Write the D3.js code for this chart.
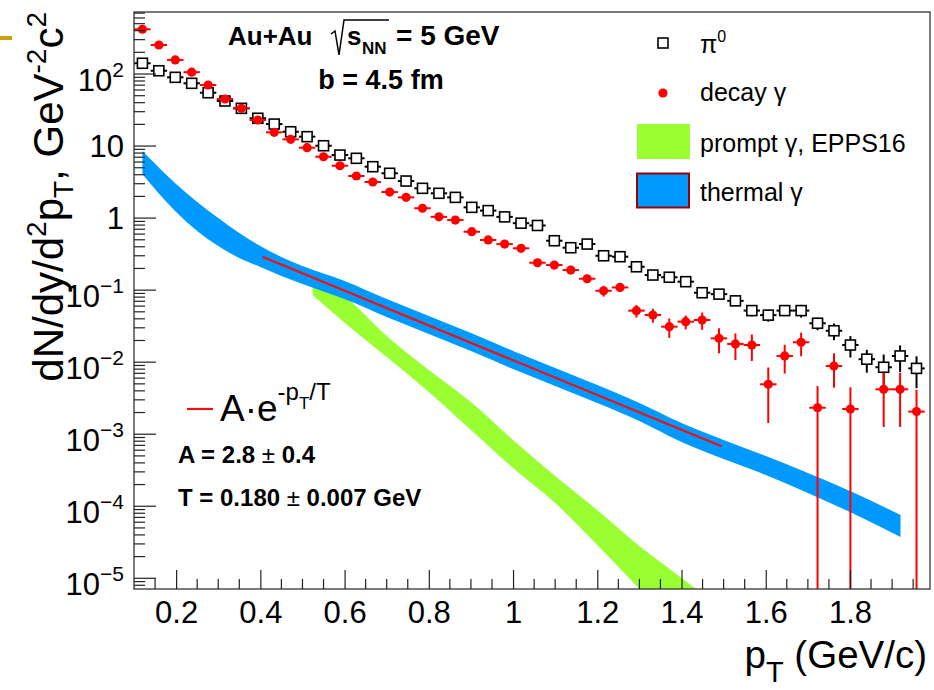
<!DOCTYPE html>
<html>
<head>
<meta charset="utf-8">
<script src="https://cdn.jsdelivr.net/npm/d3@7"></script>
<style>
body{margin:0;background:#fff;}
svg{display:block;font-family:"Liberation Sans",Arial,Helvetica,sans-serif;}
</style>
</head>
<body>
<script>

//bin centres in pT (GeV/c)
var pt = [0.120,0.159,0.198,0.237,0.276,0.316,0.355,0.394,0.433,0.472,0.511,0.550,0.589,0.628,0.667,0.707,
          0.746,0.785,0.824,0.863,0.902,0.941,0.980,1.019,1.058,1.098,1.137,1.176,1.215,1.254,1.293,1.332,
          1.371,1.410,1.449,1.489,1.528,1.567,1.606,1.645,1.684,1.723,1.762,1.801,1.840,1.880,1.919,1.958];
var binHalf = 0.0195;

//pi0 spectrum
var pi0 = [141,111,90,74.3,55,42.2,33.4,24.3,20.2,15.8,13.5,10.1,7.5,6.76,5.17,4.19,
           3.27,2.59,2.21,1.94,1.41,1.27,1.04,0.85,0.79,0.485,0.388,0.436,0.30,0.291,0.211,0.162,
           0.151,0.131,0.092,0.088,0.071,0.052,0.045,0.052,0.052,0.0347,0.0273,0.0173,0.011,0.0085,0.0122,0.0082];
var pi0ErrFrac = [0.04,0.04,0.04,0.04,0.04,0.04,0.04,0.04,0.04,0.04,0.04,0.04,0.04,0.04,0.04,0.04,
                  0.05,0.05,0.05,0.05,0.06,0.06,0.06,0.06,0.07,0.08,0.08,0.08,0.08,0.08,0.08,0.08,
                  0.09,0.09,0.1,0.1,0.12,0.17,0.19,0.16,0.2,0.2,0.26,0.33,0.35,0.5,0.4,0.47];

//decay photons (null = no point)
var decay = [418,253,157,106,70.4,45,33.4,23,15.5,12.4,9.49,7.11,5.33,3.84,3.17,2.30,
             1.94,1.37,1.04,0.94,0.647,0.497,0.436,0.381,0.24,0.223,0.19,0.144,0.098,0.109,0.0519,0.0452,
             0.0311,0.0365,0.0385,0.0214,0.0179,0.0173,0.00493,0.0122,0.0189,0.00233,0.00885,0.00224,null,0.0042,0.0042,0.00206];
var decayErrFrac = [0.05,0.05,0.05,0.05,0.05,0.05,0.05,0.05,0.05,0.05,0.05,0.05,0.05,0.05,0.05,0.05,
                    0.05,0.05,0.05,0.05,0.07,0.07,0.07,0.07,0.07,0.12,0.12,0.13,0.17,0.12,0.2,0.22,
                    0.3,0.22,0.27,0.38,0.4,0.4,0.71,0.43,0.36,1.0,0.5,1.0,null,0.7,0.7,1.0];

//thermal photon band
var thermPt = [0.12,0.16,0.20,0.25,0.30,0.35,0.40,0.45,0.50,0.60,0.70,0.80,0.90,1.00,1.10,1.20,1.30,1.40,1.50,1.60,1.70,1.80,1.92];
var thermHi = [8.54,4.96,2.97,1.67,1.00,0.621,0.41,0.288,0.216,0.134,0.0753,0.0438,0.0254,0.0143,0.0083,0.00482,
               0.00271,0.00143,0.000832,0.000499,0.00029,0.000163,7.56e-5];
var thermLo = [4.1,2.16,1.215,0.662,0.41,0.279,0.21,0.157,0.122,0.0753,0.0424,0.0246,0.0143,0.00804,0.00467,0.00271,
               0.00153,0.00078,0.000453,0.000272,0.000153,8.32e-5,3.75e-5];

//prompt photon band (EPPS16)
var promptPt = [0.524,0.612,0.70,0.80,0.90,1.00,1.10,1.20,1.30,1.35,1.40,1.45];
var promptHi = [0.1905,0.0730,0.0231,0.00779,0.0028,0.000831,0.000263,8.87e-5,2.81e-5,1.68e-5,1.01e-5,6.05e-6];
var promptLo = [0.0856,0.0308,0.0118,0.00386,0.001145,0.00034,0.000111,2.9e-5,7.1e-6,3.4e-6,1.58e-6,7.3e-7];

//exponential fit, end points of the drawn line
var fitPt = [0.405,1.495];
var fitVal = [0.29,6.8e-4];

//axis ticks
var xMajor = [0.2,0.4,0.6,0.8,1.0,1.2,1.4,1.6,1.8];
var xMinor = [0.15,0.25,0.3,0.35,0.45,0.5,0.55,0.65,0.7,0.75,0.85,0.9,0.95,1.05,1.1,1.15,1.25,1.3,1.35,
              1.45,1.5,1.55,1.65,1.7,1.75,1.85,1.9,1.95];
var yExp = [-5,-4,-3,-2,-1,0,1,2];

var width = 934, height = 690;
var fL = 134, fR = 930, fT = 12, fB = 589;

var svg = d3.select("body").append("svg")
    .attr("width", width)
    .attr("height", height);

var x = d3.scaleLinear().domain([0.1,1.99]).range([fL,fR]);
var y = d3.scaleLog().domain([7.1e-6,726]).range([fB,fT]);

svg.append("defs").append("clipPath").attr("id","frame")
    .append("rect").attr("x",fL).attr("y",fT).attr("width",fR-fL).attr("height",fB-fT);

var plot = svg.append("g").attr("clip-path","url(#frame)");

//bands
var area = d3.area()
    .x(function(d){ return x(d.pt); })
    .y0(function(d){ return y(d.lo); })
    .y1(function(d){ return y(d.hi); })
    .curve(d3.curveMonotoneX);

var promptData = promptPt.map(function(p,i){ return {pt:p, lo:promptLo[i], hi:promptHi[i]}; });
var thermData = thermPt.map(function(p,i){ return {pt:p, lo:thermLo[i], hi:thermHi[i]}; });

plot.append("path").datum(promptData).attr("d",area).attr("fill","#99ff33");
plot.append("path").datum(thermData).attr("d",area).attr("fill","#0099ff");

//fit line
plot.append("line")
    .attr("x1",x(fitPt[0])).attr("y1",y(fitVal[0]))
    .attr("x2",x(fitPt[1])).attr("y2",y(fitVal[1]))
    .attr("stroke","#ee1111").attr("stroke-width",2.2);

//error bars, skipping the part hidden by the marker
function errorBars(g, vals, frac, color, r){
    var ymin = y.domain()[0];
    vals.forEach(function(v,i){
        if (v === null) return;
        var cx = x(pt[i]), cy = y(v), s = v*frac[i];
        var yHi = y(v+s), yLo = (v-s) > ymin ? y(v-s) : fB;
        var segs = [[x(pt[i]-binHalf),cy,cx-r,cy],[cx+r,cy,x(pt[i]+binHalf),cy]];
        if (yHi < cy-r) segs.push([cx,cy-r,cx,yHi]);
        if (yLo > cy+r) segs.push([cx,cy+r,cx,yLo]);
        segs.forEach(function(s){
            g.append("line").attr("x1",s[0]).attr("y1",s[1]).attr("x2",s[2]).attr("y2",s[3])
                .attr("stroke",color).attr("stroke-width",2);
        });
    });
}

var gPi = plot.append("g");
errorBars(gPi, pi0, pi0ErrFrac, "#000", 5);
gPi.selectAll("rect").data(pi0).enter().append("rect")
    .attr("x",function(d,i){ return x(pt[i])-5; })
    .attr("y",function(d){ return y(d)-5; })
    .attr("width",10).attr("height",10)
    .attr("fill","none").attr("stroke","#000").attr("stroke-width",1.6);

var gDec = plot.append("g");
errorBars(gDec, decay, decayErrFrac, "#ff0000", 0);
gDec.selectAll("circle").data(decay.map(function(v,i){ return {v:v,i:i}; }).filter(function(d){ return d.v!==null; }))
    .enter().append("circle")
    .attr("cx",function(d){ return x(pt[d.i]); })
    .attr("cy",function(d){ return y(d.v); })
    .attr("r",4.6).attr("fill","#ff0000");

//frame
svg.append("rect").attr("x",fL).attr("y",fT).attr("width",fR-fL).attr("height",fB-fT)
    .attr("fill","none").attr("stroke","#222").attr("stroke-width",1.2);

//x axis
var xAxis = d3.axisBottom(x).tickValues(xMajor).tickSize(-19).tickPadding(12)
    .tickFormat(function(d){ return String(+d.toFixed(1)); });
var gx = svg.append("g").attr("transform","translate(0,"+fB+")").call(xAxis);
gx.select(".domain").remove();
gx.selectAll("line").attr("stroke","#222").attr("stroke-width",1.2);
gx.selectAll("text").attr("font-size",31).attr("fill","#000")
    .attr("font-family","Liberation Sans, Arial, sans-serif");
svg.selectAll(".xminor").data(xMinor).enter().append("line")
    .attr("x1",function(d){ return x(d); }).attr("x2",function(d){ return x(d); })
    .attr("y1",fB).attr("y2",fB-10)
    .attr("stroke","#222").attr("stroke-width",1.2);

//y axis
var yMinor = [];
yExp.concat([-6]).forEach(function(e){
    for (var m=2; m<=9; m++){
        var v = m*Math.pow(10,e);
        if (v > y.domain()[0] && v < y.domain()[1]) yMinor.push(v);
    }
});
svg.selectAll(".yminor").data(yMinor).enter().append("line")
    .attr("x1",fL).attr("x2",fL+11)
    .attr("y1",function(d){ return y(d); }).attr("y2",function(d){ return y(d); })
    .attr("stroke","#222").attr("stroke-width",1.2);
yExp.forEach(function(e){
    var v = Math.pow(10,e), ty = y(v);
    svg.append("line").attr("x1",fL).attr("x2",fL+22).attr("y1",ty).attr("y2",ty)
        .attr("stroke","#222").attr("stroke-width",1.2);
    var t = svg.append("text").attr("text-anchor","end").attr("font-size",31).attr("x",124);
    if (e === 0 || e === 1){
        t.attr("y",ty+11).text(e === 0 ? "1" : "10");
    } else {
        t.attr("y",ty+17);
        t.append("tspan").text("10");
        t.append("tspan").attr("font-size",21).attr("dy",-14)
            .text(e < 0 ? "\u2212"+(-e) : String(e));
    }
});

//axis titles
var yt = svg.append("text").attr("transform","translate(63,12) rotate(-90)")
    .attr("text-anchor","end").attr("font-size",42);
yt.append("tspan").text("dN/dy/d");
yt.append("tspan").attr("font-size",28).attr("dy",-17).text("2");
yt.append("tspan").attr("dy",17).text("p");
yt.append("tspan").attr("font-size",28).attr("dy",10).text("T");
yt.append("tspan").attr("dy",-10).text(", GeV");
yt.append("tspan").attr("font-size",28).attr("dy",-17).text("-2");
yt.append("tspan").attr("dy",17).text("c");
yt.append("tspan").attr("font-size",28).attr("dy",-17).text("2");

var xt = svg.append("text").attr("x",927).attr("y",668)
    .attr("text-anchor","end").attr("font-size",38.5);
xt.append("tspan").text("p");
xt.append("tspan").attr("font-size",29).attr("dy",14).text("T");
xt.append("tspan").attr("dy",-14).text(" (GeV/c)");

//system label
svg.append("text").attr("x",228).attr("y",45).attr("font-size",26).attr("font-weight","bold").text("Au+Au");
svg.append("path").attr("d","M331,34 L335,31 L339,55 L344,20 L389,20")
    .attr("fill","none").attr("stroke","#000").attr("stroke-width",1.5);
svg.append("text").attr("x",347).attr("y",45).attr("font-size",26).attr("font-weight","bold").text("s");
svg.append("text").attr("x",362).attr("y",54).attr("font-size",17).attr("font-weight","bold").text("NN");
svg.append("text").attr("x",396).attr("y",45).attr("font-size",28).attr("font-weight","bold").text("= 5 GeV");
svg.append("text").attr("x",381).attr("y",89).attr("text-anchor","middle")
    .attr("font-size",27).attr("font-weight","bold").text("b = 4.5 fm");

//legend
var legX = 700;
svg.append("rect").attr("x",658).attr("y",38).attr("width",10).attr("height",10)
    .attr("fill","none").attr("stroke","#000").attr("stroke-width",1.6);
var l1 = svg.append("text").attr("x",legX).attr("y",53).attr("font-size",25);
l1.append("tspan").text("\u03c0");
l1.append("tspan").attr("font-size",16).attr("dy",-11).text("0");
svg.append("circle").attr("cx",663).attr("cy",93).attr("r",4.6).attr("fill","#ff0000");
svg.append("text").attr("x",legX).attr("y",101).attr("font-size",25).text("decay \u03b3");
svg.append("rect").attr("x",637).attr("y",124).attr("width",53).attr("height",35).attr("fill","#99ff33");
svg.append("text").attr("x",legX).attr("y",152).attr("font-size",25).text("prompt \u03b3, EPPS16");
svg.append("rect").attr("x",637).attr("y",173.5).attr("width",52).attr("height",34)
    .attr("fill","#0099ff").attr("stroke","#990000").attr("stroke-width",2);
svg.append("text").attr("x",legX).attr("y",201).attr("font-size",25).text("thermal \u03b3");

//fit legend
svg.append("line").attr("x1",187).attr("x2",213).attr("y1",409).attr("y2",409)
    .attr("stroke","#ee1111").attr("stroke-width",2.2);
var ft = svg.append("text").attr("x",220).attr("y",421).attr("font-size",37);
ft.append("tspan").text("A\u00b7e");
ft.append("tspan").attr("font-size",24).attr("dy",-21).text("-p");
ft.append("tspan").attr("font-size",17).attr("dy",9).text("T");
ft.append("tspan").attr("font-size",24).attr("dy",-9).text("/T");

var a = svg.append("text").attr("x",178).attr("y",463).attr("font-size",24).attr("font-weight","bold");
a.append("tspan").text("A = 2.8 ");
a.append("tspan").attr("font-weight","normal").text("\u00b1");
a.append("tspan").text(" 0.4");
var tt = svg.append("text").attr("x",178).attr("y",506).attr("font-size",24).attr("font-weight","bold");
tt.append("tspan").text("T = 0.180 ");
tt.append("tspan").attr("font-weight","normal").text("\u00b1");
tt.append("tspan").text(" 0.007 GeV");

//small mark at the top left edge
svg.append("rect").attr("x",0).attr("y",36).attr("width",12).attr("height",4).attr("fill","#cc9e14");

</script>
</body>
</html>
